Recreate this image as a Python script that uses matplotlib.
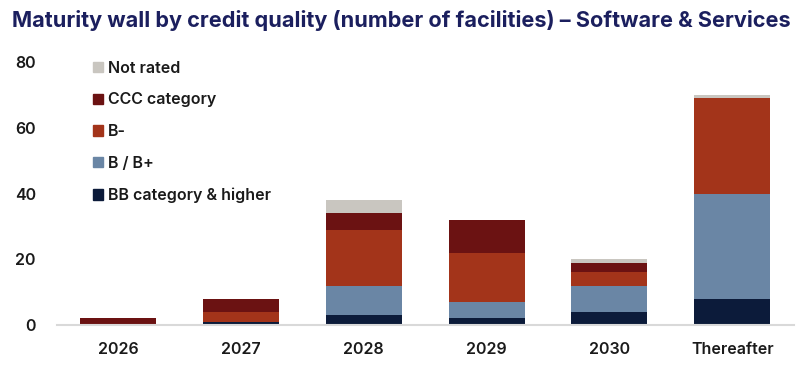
import numpy as np
import matplotlib
matplotlib.use("Agg")
import matplotlib.pyplot as plt
from matplotlib.patches import Patch

# data (number of facilities)
categories = ["2026", "2027", "2028", "2029", "2030", "Thereafter"]
bb_higher = [0, 1, 3, 2, 4, 8]
b_bplus = [0, 0, 9, 5, 8, 32]
b_minus = [0, 3, 17, 15, 4, 29]
ccc = [2, 4, 5, 10, 3, 0]
not_rated = [0, 0, 4, 0, 1, 1]

series = [
    ("BB category & higher", bb_higher, "#0c1b3a"),
    ("B / B+", b_bplus, "#6a86a5"),
    ("B-", b_minus, "#a3341a"),
    ("CCC category", ccc, "#6b1212"),
    ("Not rated", not_rated, "#c9c6c0"),
]

plt.rcParams['font.family'] = ['Inter', 'DejaVu Sans']

fig = plt.figure(figsize=(8, 3.7), dpi=100)
ax = fig.add_axes([0.071, 0.1216, 0.921, 0.7108])

x = np.arange(len(categories))
bottom = np.zeros(len(categories))
for name, vals, col in series:
    vals = np.array(vals, dtype=float)
    ax.bar(x, vals, bottom=bottom, width=0.62, color=col, label=name)
    bottom += vals

ax.set_xlim(-0.5, len(categories) - 0.5)
ax.set_ylim(0, 80)
ax.set_yticks([0, 20, 40, 60, 80])
ax.set_xticks(x)
ax.set_xticklabels(categories)
for s in ["top", "right", "left"]:
    ax.spines[s].set_visible(False)
ax.spines["bottom"].set_color("#d9d9d9")
ax.spines["bottom"].set_linewidth(1.5)
ax.tick_params(axis="both", length=0, labelsize=11.5, colors="#1a1a1a")
ax.tick_params(axis="y", pad=15)
ax.tick_params(axis="x", pad=12)
for lab in ax.get_xticklabels() + ax.get_yticklabels():
    lab.set_fontweight("semibold")

handles = [Patch(color=c) for _, _, c in series][::-1]
labels = [n for n, _, _ in series][::-1]
leg = ax.legend(handles, labels, loc="upper left", bbox_to_anchor=(0.03, 1.06),
                frameon=False, handlelength=0.6, handleheight=0.6,
                handletextpad=0.3, labelspacing=1.05, fontsize=11.5)
for t in leg.get_texts():
    t.set_fontweight("semibold")
    t.set_color("#1a1a1a")

fig.text(0.015, 0.945, "Maturity wall by credit quality (number of facilities) \u2013 Software & Services",
         fontsize=15.6, fontweight="bold", color="#1b1f5e", va="center", ha="left")

fig.savefig("out.png", dpi=100)
